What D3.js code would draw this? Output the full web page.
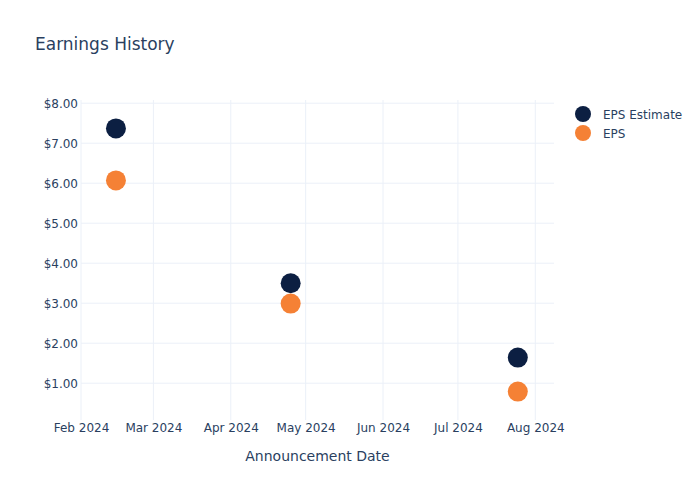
<!DOCTYPE html>
<html>
<head>
<meta charset="utf-8">
<script src="https://cdn.jsdelivr.net/npm/d3@7"></script>
<style>
  html, body { margin: 0; padding: 0; background: #fff; }
  svg { display: block; font-family: "DejaVu Sans", Verdana, sans-serif; }
</style>
</head>
<body>
<svg id="chart" width="700" height="500"></svg>
<script>
const dates = ["2024-02-15", "2024-04-25", "2024-07-25"];
const epsEstimate = [7.37, 3.50, 1.64];
const eps = [6.07, 2.99, 0.79];
const seriesNames = ["EPS Estimate", "EPS"];
const seriesColors = ["#0c1f42", "#f58135"];
const yTicks = [1, 2, 3, 4, 5, 6, 7, 8];
const xTicks = ["2024-02-01", "2024-03-01", "2024-04-01", "2024-05-01", "2024-06-01", "2024-07-01", "2024-08-01"];

const textColor = "#2a3f5f";
const gridColor = "#ebf0f8";
const svg = d3.select("#chart");
const margin = { left: 81, right: 146, top: 100, bottom: 80 };
const W = 700, H = 500;

const parse = d3.utcParse("%Y-%m-%d");
const x = d3.scaleUtc()
  .domain([parse("2024-02-01"), new Date(Date.UTC(2024, 7, 8, 12))])
  .range([margin.left, W - margin.right]);
const y = d3.scaleLinear()
  .domain([0.08, 8.08])
  .range([H - margin.bottom, margin.top]);

// gridlines
const g = svg.append("g");
g.selectAll(".ygrid").data(yTicks).enter().append("line")
  .attr("x1", margin.left).attr("x2", W - margin.right)
  .attr("y1", d => y(d)).attr("y2", d => y(d))
  .attr("stroke", gridColor).attr("stroke-width", 1);
g.selectAll(".xgrid").data(xTicks).enter().append("line")
  .attr("x1", d => x(parse(d))).attr("x2", d => x(parse(d)))
  .attr("y1", margin.top).attr("y2", H - margin.bottom)
  .attr("stroke", gridColor).attr("stroke-width", 1);

// y axis
const yAxis = d3.axisLeft(y).tickValues(yTicks).tickFormat(d => "$" + d3.format(".2f")(d)).tickSize(0).tickPadding(3);
const yg = svg.append("g").attr("transform", `translate(${margin.left},0)`).call(yAxis);
yg.select(".domain").remove();
yg.selectAll("text").attr("fill", textColor).style("font-size", "12px").style("font-family", "DejaVu Sans");

// x axis
const xAxis = d3.axisBottom(x).tickValues(xTicks.map(parse)).tickFormat(d3.utcFormat("%b %Y")).tickSize(0).tickPadding(3);
const xg = svg.append("g").attr("transform", `translate(0,${H - margin.bottom})`).call(xAxis);
xg.select(".domain").remove();
xg.selectAll("text").attr("fill", textColor).style("font-size", "12px").style("font-family", "DejaVu Sans");

// points
const series = [epsEstimate, eps];
series.forEach((vals, si) => {
  svg.append("g").selectAll("circle").data(vals).enter().append("circle")
    .attr("cx", (d, i) => x(parse(dates[i])))
    .attr("cy", d => y(d))
    .attr("r", 10)
    .attr("fill", seriesColors[si]);
});

// title
svg.append("text").attr("x", 35).attr("y", 50).text("Earnings History")
  .attr("fill", textColor).style("font-size", "17px");

// x axis title
svg.append("text").attr("x", (margin.left + W - margin.right) / 2).attr("y", 461)
  .attr("text-anchor", "middle").text("Announcement Date")
  .attr("fill", textColor).style("font-size", "14px");

// legend
const lg = svg.append("g");
seriesNames.forEach((name, i) => {
  const ly = 114 + i * 19;
  lg.append("circle").attr("cx", 583).attr("cy", ly).attr("r", 8).attr("fill", seriesColors[i]);
  lg.append("text").attr("x", 603).attr("y", ly + 4.5).text(name)
    .attr("fill", textColor).style("font-size", "12px");
});
</script>
</body>
</html>
